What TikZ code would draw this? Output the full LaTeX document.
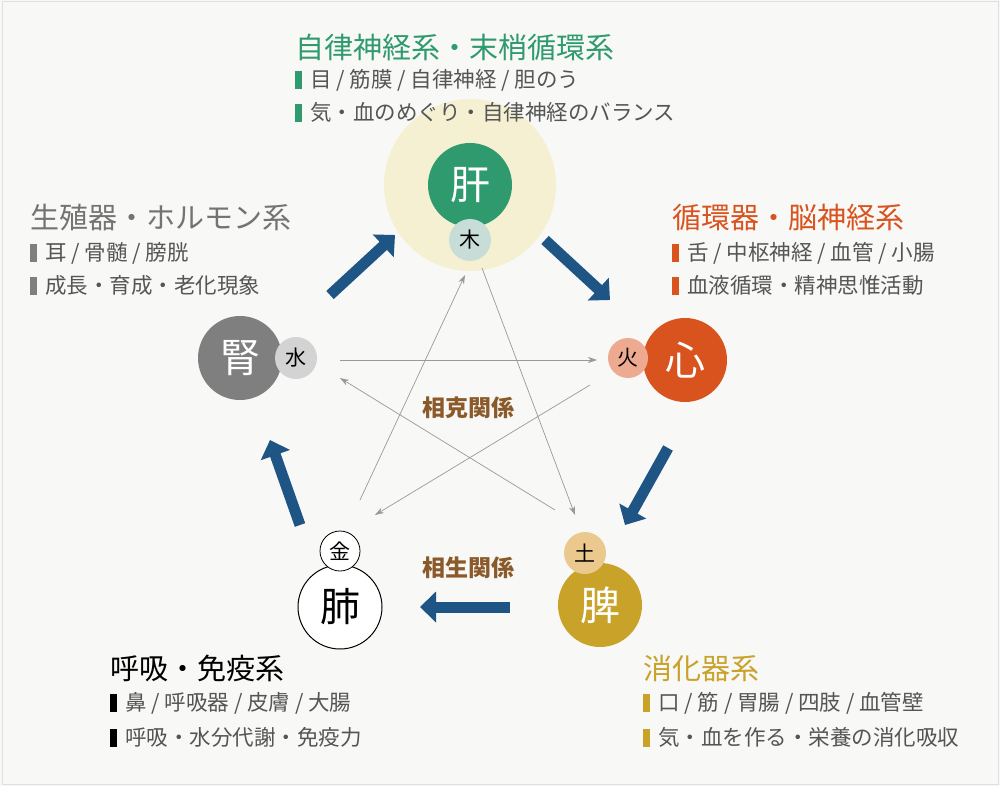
\documentclass[tikz,border=0pt]{standalone}
\usepackage{fontspec}
\setmainfont{Noto Sans CJK JP}
\usetikzlibrary{arrows.meta}
\definecolor{bg}{HTML}{F8F8F6}
\definecolor{gr}{HTML}{2E9A6E}
\definecolor{org}{HTML}{D9531E}
\definecolor{gold}{HTML}{C9A22A}
\definecolor{gry}{HTML}{7F7F7F}
\definecolor{blu}{HTML}{1F5585}
\definecolor{brn}{HTML}{8A5A2A}
\definecolor{txt}{HTML}{555555}
\definecolor{pale}{HTML}{F5F0D2}
\newcommand{\bul}[1]{{\color{#1}\rule[-2pt]{7pt}{18pt}}\hspace{8pt}}
\tikzset{
 organ/.style={circle,minimum size=84pt,inner sep=0pt,font=\fontsize{40}{40}\selectfont,text=white},
 elem/.style={circle,minimum size=42pt,inner sep=0pt,font=\fontsize{21}{21}\selectfont},
 big/.style={-{Triangle[length=16pt,width=30pt]},line width=11pt,blu},
 thin/.style={-{Stealth[length=9pt,width=6pt]},gray!80,line width=0.7pt},
 ttl/.style={anchor=west,font=\fontsize{29}{29}\selectfont,inner sep=0pt},
 itm/.style={anchor=west,font=\fontsize{21.5}{21.5}\selectfont,text=txt,inner sep=0pt},
 rel/.style={font=\fontsize{23}{23}\selectfont\bfseries,text=brn}
}
\begin{document}
\begin{tikzpicture}[x=1pt,y=-1pt]
\fill[bg] (0,0) rectangle (1000,786);
\draw[gray!25,line width=1pt] (2,2) rectangle (998,784);
% liver
\fill[pale] (470,185) circle (86);
\node[organ,fill=gr] (liver) at (470,185) {肝};
\node[elem,fill={rgb,255:red,201;green,221;blue,216}] (wood) at (470,240) {木};
% heart
\node[organ,fill=org] (heart) at (685,360) {心};
\node[elem,fill={rgb,255:red,238;green,170;blue,144},minimum size=40pt] (fire) at (628,358) {火};
% spleen
\node[organ,fill=gold] (spleen) at (600,605) {脾};
\node[elem,fill={rgb,255:red,235;green,201;blue,142}] (earth) at (585,553) {土};
% lung
\node[organ,fill=white,draw=black,line width=1pt,text=black] (lung) at (340,607) {肺};
\node[elem,fill=white,draw=black,line width=0.8pt,minimum size=40pt] (metal) at (340,551) {金};
% kidney
\node[organ,fill=gry] (kidney) at (240,358) {腎};
\node[elem,fill={rgb,255:red,211;green,211;blue,211}] (water) at (296,358) {水};
% big arrows
\coordinate (k1) at (330,295); \coordinate (k2) at (395,235);
\coordinate (h1) at (545,240); \coordinate (h2) at (610,300);
\coordinate (s1) at (668,448); \coordinate (s2) at (625,525);
\coordinate (l1) at (510,607); \coordinate (l2) at (420,607);
\coordinate (w1) at (300,525); \coordinate (w2) at (270,440);
\draw[big] (k1) -- (k2);
\draw[big] (h1) -- (h2);
\draw[big] (s1) -- (s2);
\draw[big] (l1) -- (l2);
\draw[big] (w1) -- (w2);
% star
\coordinate (a1) at (340,360); \coordinate (a2) at (597,360);
\coordinate (b1) at (590,385); \coordinate (b2) at (375,515);
\coordinate (c1) at (360,500); \coordinate (c2) at (465,275);
\coordinate (d1) at (482,268); \coordinate (d2) at (575,515);
\coordinate (e1) at (555,510); \coordinate (e2) at (340,378);
\draw[thin] (a1) -- (a2);
\draw[thin] (b1) -- (b2);
\draw[thin] (c1) -- (c2);
\draw[thin] (d1) -- (d2);
\draw[thin] (e1) -- (e2);
\node[rel] (kk) at (468,408) {相克関係};
\node[rel] (ss) at (468,568) {相生関係};
% texts
\node[ttl,text=gr] (t1) at (295,47) {自律神経系・末梢循環系};
\node[itm] (t1a) at (295,80) {\bul{gr}目 / 筋膜 / 自律神経 / 胆のう};
\node[itm] (t1b) at (295,112) {\bul{gr}気・血のめぐり・自律神経のバランス};
\node[ttl,text=org] (t2) at (672,218) {循環器・脳神経系};
\node[itm] (t2a) at (672,253) {\bul{org}舌 / 中枢神経 / 血管 / 小腸};
\node[itm] (t2b) at (672,285) {\bul{org}血液循環・精神思惟活動};
\node[ttl,text=gray!90!black] (t3) at (30,218) {生殖器・ホルモン系};
\node[itm] (t3a) at (30,253) {\bul{gry}耳 / 骨髄 / 膀胱};
\node[itm] (t3b) at (30,285) {\bul{gry}成長・育成・老化現象};
\node[ttl,text=black] (t4) at (110,668) {呼吸・免疫系};
\node[itm] (t4a) at (110,703) {\bul{black}鼻 / 呼吸器 / 皮膚 / 大腸};
\node[itm] (t4b) at (110,737) {\bul{black}呼吸・水分代謝・免疫力};
\node[ttl,text=gold] (t5) at (643,668) {消化器系};
\node[itm] (t5a) at (643,703) {\bul{gold}口 / 筋 / 胃腸 / 四肢 / 血管壁};
\node[itm] (t5b) at (643,737) {\bul{gold}気・血を作る・栄養の消化吸収};
\end{tikzpicture}
\end{document}
